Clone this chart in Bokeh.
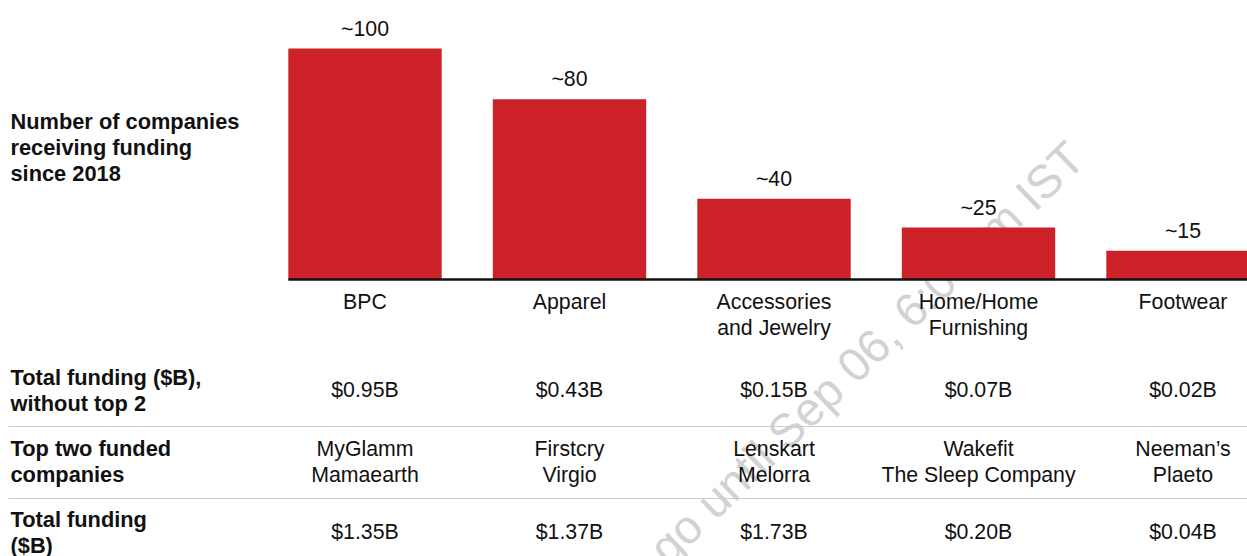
from bokeh.plotting import figure
from bokeh.models import ColumnDataSource, Range1d
from bokeh.core.properties import value
from bokeh.embed import file_html
from bokeh.resources import INLINE
import math

# ---------------- data ----------------
categories = ["BPC", "Apparel", "Accessories\nand Jewelry", "Home/Home\nFurnishing", "Footwear"]
companies_count = [100, 78, 35, 22.5, 12.5]          # bar heights as drawn
count_labels = ["~100", "~80", "~40", "~25", "~15"]
funding_wo_top2 = ["$0.95B", "$0.43B", "$0.15B", "$0.07B", "$0.02B"]
top_two = ["MyGlamm\nMamaearth", "Firstcry\nVirgio", "Lenskart\nMelorra",
           "Wakefit\nThe Sleep Company", "Neeman\u2019s\nPlaeto"]
total_funding = ["$1.35B", "$1.37B", "$1.73B", "$0.20B", "$0.04B"]
row_titles = ["Number of companies\nreceiving funding\nsince 2018",
              "Total funding ($B),\nwithout top 2",
              "Top two funded\ncompanies",
              "Total funding\n($B)"]
watermark = "go until Sep 06, 6:00am IST"

# ---------------- layout ----------------
W, H = 1247, 556
FONT = value("Liberation Sans")
RED = "#CC2129"
TXT = "#111111"
FS = "21.3px"
FSB = "21.8px"

px_per_cat = 204.5
x0 = -364.5 / px_per_cat
px_per_unit = 2.31
base_from_top = 279
y0 = -(H - base_from_top) / px_per_unit
y1 = base_from_top / px_per_unit

p = figure(width=W, height=H, output_backend="svg", toolbar_location=None,
           x_range=Range1d(x0, x0 + W / px_per_cat), y_range=Range1d(y0, y1),
           min_border=0, outline_line_color=None)
p.axis.visible = False
p.grid.visible = False
p.background_fill_color = "white"
p.border_fill_color = "white"
# screen-like ranges (pixels from top-left of figure)
p.extra_x_ranges = {"sx": Range1d(0, W)}
p.extra_y_ranges = {"sy": Range1d(H, 0)}

idx = list(range(len(categories)))

# watermark (under bars)
p.text(x=[866], y=[352], text=[watermark], x_range_name="sx", y_range_name="sy",
       angle=math.radians(44), text_align="center", text_baseline="alphabetic",
       text_font=FONT, text_font_size="47px", text_color="#d2d2d2")

# bars
src = ColumnDataSource(dict(x=idx, top=companies_count, lab=count_labels))
p.vbar(x="x", top="top", bottom=0, width=0.75, source=src, fill_color=RED, line_color=None)
p.text(x="x", y="top", text="lab", source=src, text_align="center", text_baseline="middle",
       y_offset=-20, text_font=FONT, text_font_size=FS, text_color=TXT)

# baseline
p.segment(x0=[idx[0] - 0.375], y0=[0], x1=[x0 + W / px_per_cat + 1], y1=[0],
          line_color="#111111", line_width=2.5)

LH = 26

def multiline(xs, labels, center_y, align="center", bold=False, x_range="default"):
    xx, yy, tt = [], [], []
    for x, lab in zip(xs, labels):
        lines = lab.split("\n")
        n = len(lines)
        for k, ln in enumerate(lines):
            xx.append(x)
            yy.append(center_y + (k - (n - 1) / 2) * LH)
            tt.append(ln)
    kw = dict(y_range_name="sy")
    if x_range != "default":
        kw["x_range_name"] = x_range
    p.text(x=xx, y=yy, text=tt, text_align=align, text_baseline="middle",
           text_font=FONT, text_font_size=FSB if bold else FS, text_color=TXT,
           text_font_style="bold" if bold else "normal", **kw)

def top_aligned(xs, labels, first_y):
    xx, yy, tt = [], [], []
    for x, lab in zip(xs, labels):
        for k, ln in enumerate(lab.split("\n")):
            xx.append(x); yy.append(first_y + k * LH); tt.append(ln)
    p.text(x=xx, y=yy, text=tt, text_align="center", text_baseline="middle",
           text_font=FONT, text_font_size=FS, text_color=TXT, y_range_name="sy")

# category labels under axis
top_aligned(idx, categories, 301)

# row titles (left column)
row_centers = [147, 389.5, 461, 532]
for t, cy in zip(row_titles, row_centers):
    multiline([10], [t], cy, align="left", bold=True, x_range="sx")

# table values
multiline(idx, funding_wo_top2, 389)
multiline(idx, top_two, 461)
multiline(idx, total_funding, 531)

# separators
for sy in [426, 498]:
    p.segment(x0=[8], y0=[sy], x1=[W], y1=[sy], x_range_name="sx", y_range_name="sy",
              line_color="#cccccc", line_width=1.2)

open("out.html", "w").write(file_html(p, INLINE))
